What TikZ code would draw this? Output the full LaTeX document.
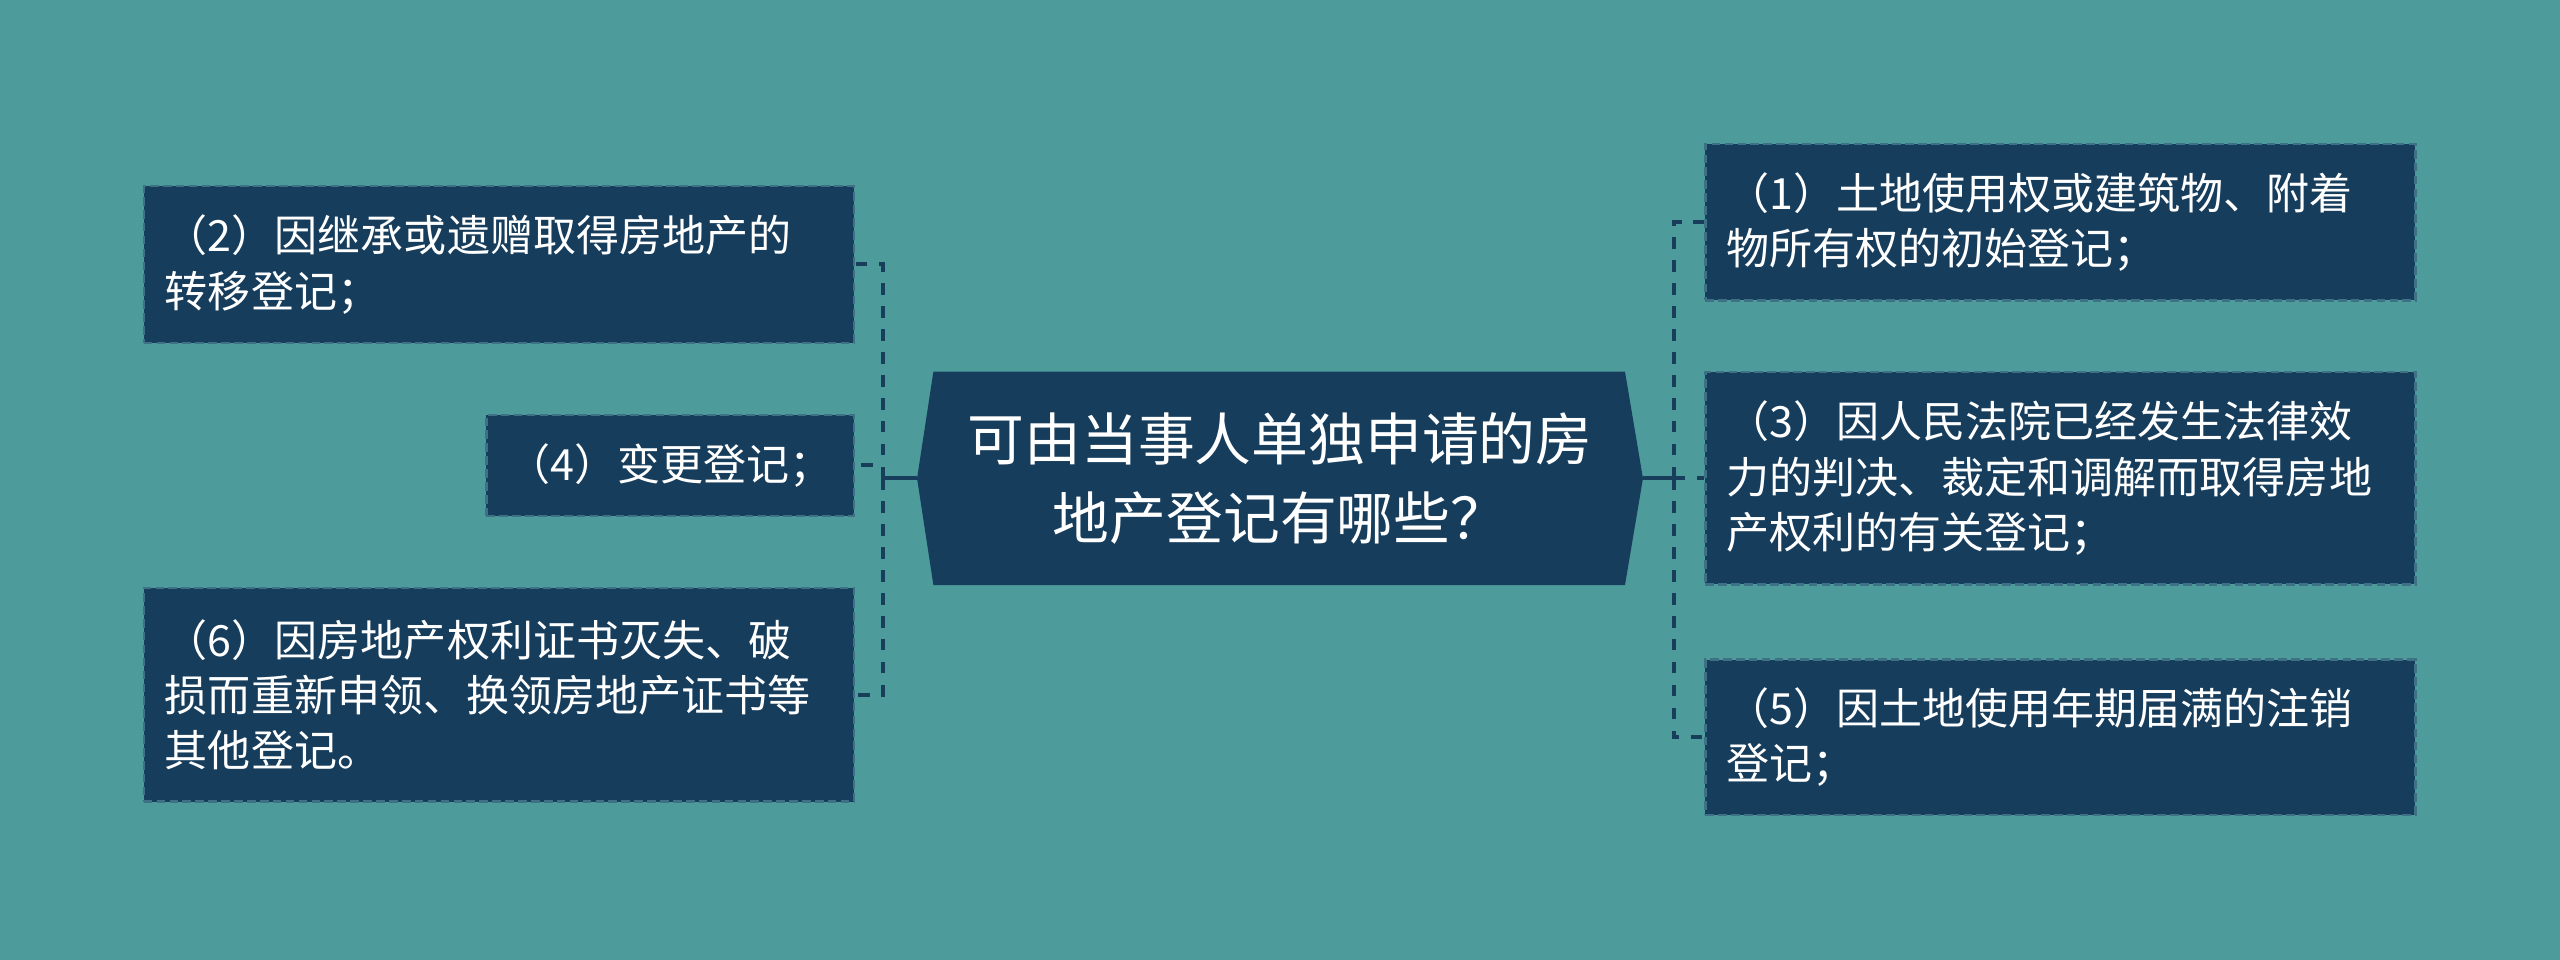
\documentclass[tikz,border=0pt]{standalone}
\usepackage{fontspec}
\setmainfont{Noto Sans CJK SC}
\usepackage{tikz}
\usetikzlibrary{positioning,backgrounds}

\definecolor{bgteal}{RGB}{78,155,156}
\definecolor{navy}{RGB}{23,61,92}
\definecolor{edgeblue}{RGB}{62,112,134}
\definecolor{linknavy}{RGB}{25,62,92}

\begin{document}
\begin{tikzpicture}[x=0.02cm,y=-0.02cm,
    leaf/.style={fill=navy, draw=edgeblue, line width=0.8pt, dash pattern=on 3pt off 1.5pt,
        text=white, align=left, inner xsep=0.26cm, inner ysep=0pt,
        font=\fontsize{15}{19.3}\selectfont},
    wideleaf/.style={leaf, text width=8.18cm},
    rootnode/.style={text=white, align=center, inner sep=0pt, minimum width=8.88cm,
        minimum height=2.6cm, font=\fontsize{19.8}{27.3}\selectfont},
    trunk/.style={draw=linknavy, line width=1.4pt},
    branch/.style={draw=linknavy, line width=1.4pt, dash pattern=on 4pt off 4pt}]

    % centre topic
    \node[rootnode] (root) at (784,293) {可由当事人单独申请的房\\地产登记有哪些？};

    % left branches
    \node[wideleaf, minimum height=1.92cm] (n2) at (305.5,162) {（2）因继承或遗赠取得房地产的\\转移登记；};
    \node[leaf, minimum width=4.5cm, minimum height=1.24cm] (n4) at (410.5,285) {（4）变更登记；};
    \node[wideleaf, minimum height=2.62cm] (n6) at (305.5,425.5) {（6）因房地产权利证书灭失、破\\损而重新申领、换领房地产证书等\\其他登记。};

    % right branches
    \node[wideleaf, minimum height=1.92cm] (n1) at (1262,136) {（1）土地使用权或建筑物、附着\\物所有权的初始登记；};
    \node[wideleaf, minimum height=2.6cm] (n3) at (1262,293) {（3）因人民法院已经发生法律效\\力的判决、裁定和调解而取得房地\\产权利的有关登记；};
    \node[wideleaf, minimum height=1.9cm] (n5) at (1262,451.5) {（5）因土地使用年期届满的注销\\登记；};

    % connectors
    \draw[trunk] (root.west) -- ++(-21,0) coordinate (lj);
    \draw[trunk] (root.east) -- ++(19,0) coordinate (rj);
    \draw[branch] (lj) |- (n2.east);
    \draw[branch] (lj) |- (n4.east);
    \draw[branch] (lj) |- (n6.east);
    \draw[branch] (rj) |- (n1.west);
    \draw[branch] (rj) |- (n3.west);
    \draw[branch] (rj) |- (n5.west);

    \begin{scope}[on background layer]
        \fill[bgteal] (0,0) rectangle (1568,588);
        \fill[navy] (root.west) -- ([xshift=0.2cm]root.north west) -- ([xshift=-0.22cm]root.north east)
            -- (root.east) -- ([xshift=-0.22cm]root.south east) -- ([xshift=0.2cm]root.south west) -- cycle;
    \end{scope}
\end{tikzpicture}
\end{document}
